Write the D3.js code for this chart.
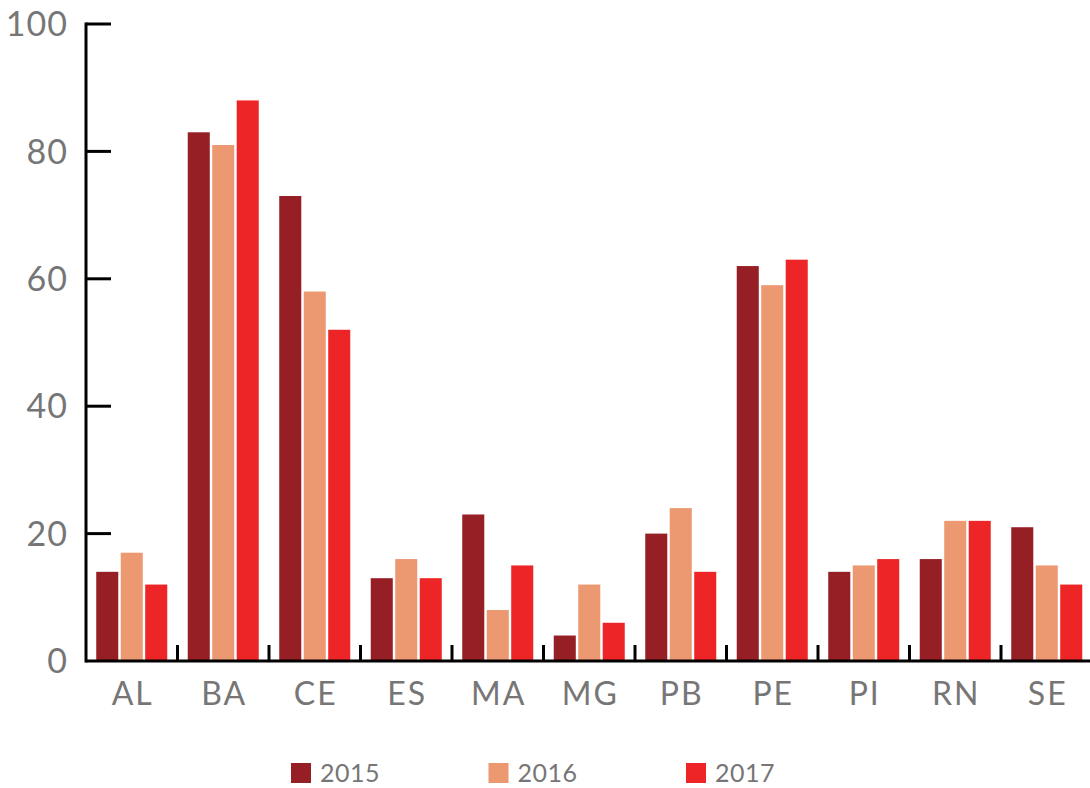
<!DOCTYPE html>
<html>
<head>
<meta charset="utf-8">
<script src="https://cdn.jsdelivr.net/npm/d3@7"></script>
<style>
    body { margin: 0; background: #fff; }
    svg { display: block; font-family: Lato, "Open Sans", sans-serif; }
    .axis text { fill: #767676; }
</style>
</head>
<body>
<svg id="chart" width="1090" height="788"></svg>
<script>
// chart values
const states = ["AL", "BA", "CE", "ES", "MA", "MG", "PB", "PE", "PI", "RN", "SE"];
const years = ["2015", "2016", "2017"];
const values2015 = [14, 83, 73, 13, 23, 4, 20, 62, 14, 16, 21];
const values2016 = [17, 81, 58, 16, 8, 12, 24, 59, 15, 22, 15];
const values2017 = [12, 88, 52, 13, 15, 6, 14, 63, 16, 22, 12];
const yTicks = [0, 20, 40, 60, 80, 100];
const colors = ["#961f25", "#ec9871", "#ee2526"];

const series = [values2015, values2016, values2017];
const rows = states.map((s, i) => ({state: s, vals: series.map(v => v[i])}));

const svg = d3.select("#chart");
const plotLeft = 86, plotRight = 1092.5, plotTop = 24, plotBottom = 661;

const x0 = d3.scaleBand()
    .domain(states)
    .range([plotLeft, plotRight])
    .paddingInner(0.224)
    .paddingOuter(0.112);

const x1 = d3.scaleBand()
    .domain(years)
    .range([0, x0.bandwidth()])
    .paddingInner(0.1);

const y = d3.scaleLinear()
    .domain([0, 100])
    .range([plotBottom, plotTop]);

const color = d3.scaleOrdinal().domain(years).range(colors);

// bars
let groups = svg.append('g').attr('class', "bars")
    .selectAll('g')
    .data(rows)
    .join('g')
    .attr('transform', (d) => `translate(${x0(d.state)},0)`);

groups.selectAll('rect')
    .data((d) => d.vals.map((v, i) => ({year: years[i], value: v})))
    .join('rect')
    .attr('x', (d) => x1(d.year))
    .attr('y', (d) => y(d.value))
    .attr('width', x1.bandwidth())
    .attr('height', (d) => plotBottom - y(d.value))
    .attr('fill', (d) => color(d.year));

// y axis: ticks point inward, labels on the left
let yAxis = svg.append('g').attr('class', "axis")
    .attr('transform', `translate(${plotLeft},0)`);
yAxis.append('line')
    .attr('y1', plotTop - 1.5).attr('y2', plotBottom + 1.5)
    .attr('stroke', "#000").attr('stroke-width', 3);
yAxis.selectAll('.tick')
    .data(yTicks)
    .join('g')
    .attr('class', "tick")
    .attr('transform', (d) => `translate(0,${y(d)})`)
    .call((g) => {
        g.filter((d) => d > 0).append('line')
            .attr('x2', 25)
            .attr('stroke', "#000").attr('stroke-width', 3);
        g.append('text')
            .attr('x', -18)
            .attr('dy', "0.36em")
            .attr('text-anchor', "end")
            .attr('font-size', 34)
            .attr('letter-spacing', 1)
            .text((d) => d);
    });

// x axis: baseline with short upward ticks at group boundaries
let xAxis = svg.append('g').attr('class', "axis");
xAxis.append('line')
    .attr('x1', plotLeft).attr('x2', 1090)
    .attr('y1', plotBottom).attr('y2', plotBottom)
    .attr('stroke', "#000").attr('stroke-width', 3);
xAxis.selectAll('.tick-mark')
    .data(states.slice(1))
    .join('line')
    .attr('class', "tick-mark")
    .attr('x1', (d) => x0(d) - x0.step() * x0.paddingInner() / 2)
    .attr('x2', (d) => x0(d) - x0.step() * x0.paddingInner() / 2)
    .attr('y1', plotBottom).attr('y2', plotBottom - 16)
    .attr('stroke', "#000").attr('stroke-width', 3);
xAxis.selectAll('.label')
    .data(states)
    .join('text')
    .attr('class', "label")
    .attr('x', (d) => x0(d) + x0.bandwidth() / 2 + 1)
    .attr('y', 705)
    .attr('text-anchor', "middle")
    .attr('font-size', 32)
    .attr('letter-spacing', 2)
    .text((d) => d);

// legend
let legend = svg.append('g').attr('class', "axis")
    .selectAll('g')
    .data(years)
    .join('g')
    .attr('transform', (d, i) => `translate(${291 + i * 197.5},763)`);
legend.append('rect')
    .attr('width', 20).attr('height', 20)
    .attr('fill', (d) => color(d));
legend.append('text')
    .attr('x', 29)
    .attr('y', 19)
    .attr('font-size', 25)
    .attr('letter-spacing', 0.5)
    .text((d) => d);
</script>
</body>
</html>
